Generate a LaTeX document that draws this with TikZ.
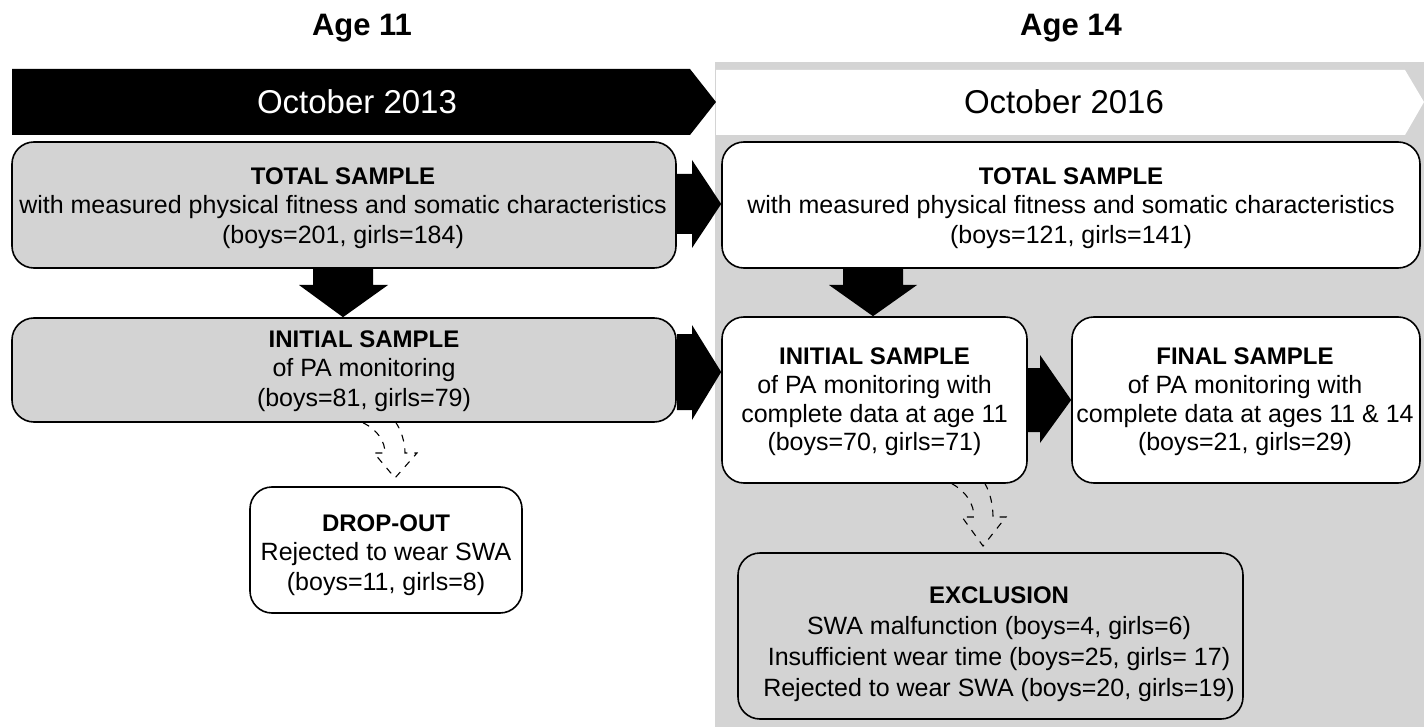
\documentclass[tikz,border=0pt]{standalone}
\usepackage{fontspec}
\setmainfont{Liberation Sans}
\begin{document}
\begin{tikzpicture}[x=1pt,y=-1pt]
\definecolor{panelgray}{RGB}{212,212,212}
\definecolor{boxgray}{RGB}{211,211,211}
\tikzset{
  box/.style={draw=black, line width=1.6pt, rounded corners=22pt, inner sep=0pt},
  graybox/.style={box, fill=boxgray},
  whitebox/.style={box, fill=white},
  boxtext/.style={align=center, inner sep=0pt, font=\fontsize{25}{29.5}\selectfont},
  blockarrow/.style={fill=black},
  dasharrow/.style={draw=black, line width=1.1pt, dash pattern=on 7pt off 7pt},
  agelabel/.style={font=\fontsize{31}{36}\selectfont\bfseries},
  bannertext/.style={font=\fontsize{33}{38}\selectfont},
}
\newcommand{\hdline}[1]{{\fontsize{24}{29.5}\selectfont\bfseries #1}}
\useasboundingbox (0,0) rectangle (1424,727);
\fill[white] (0,0) rectangle (1424,727);
% right panel
\fill[panelgray] (715,62) rectangle (1424,727);

% headings
\node[agelabel] (age11) at (362,28) {Age 11};
\node[agelabel] (age14) at (1071,28) {Age 14};

% banners
\fill[black] (12,69) -- (690,69) -- (716,102) -- (690,135) -- (12,135) -- cycle;
\fill[white] (716,70) -- (1405,70) -- (1424,102) -- (1405,135) -- (716,135) -- cycle;
\node[bannertext, text=white] (oct13) at (357,102) {October 2013};
\node[bannertext] (oct16) at (1064,102) {October 2016};

% boxes
\node[graybox, minimum width=664pt, minimum height=126pt] (A) at (344,205) {};
\node[whitebox, minimum width=698pt, minimum height=126pt] (B) at (1071,205) {};
\node[graybox, minimum width=664pt, minimum height=104pt] (C) at (344,370) {};
\node[whitebox, minimum width=305pt, minimum height=166pt] (D) at (874.5,400) {};
\node[whitebox, minimum width=348pt, minimum height=166pt] (E) at (1246,400) {};
\node[whitebox, minimum width=272pt, minimum height=126pt] (F) at (386,550) {};
\node[graybox, minimum width=505pt, minimum height=166pt] (G) at (990.5,636) {};

% box texts
\node[boxtext] (At) at (343,208)
  {\hdline{TOTAL SAMPLE}\\with measured physical fitness and somatic characteristics\\(boys=201, girls=184)};
\node[boxtext] (Bt) at (1071,208)
  {\hdline{TOTAL SAMPLE}\\with measured physical fitness and somatic characteristics\\(boys=121, girls=141)};
\node[boxtext] (Ct) at (364,371)
  {\hdline{INITIAL SAMPLE}\\of PA monitoring\\(boys=81, girls=79)};
\node[boxtext, font=\fontsize{25}{28.8}\selectfont] (Dt) at (874.5,402)
  {\hdline{INITIAL SAMPLE}\\of PA monitoring with\\complete data at age 11\\(boys=70, girls=71)};
\node[boxtext, font=\fontsize{25}{28.8}\selectfont] (Et) at (1245,402)
  {\hdline{FINAL SAMPLE}\\of PA monitoring with\\complete data at ages 11 \& 14\\(boys=21, girls=29)};
\node[boxtext] (Ft) at (386,555)
  {\hdline{DROP-OUT}\\Rejected to wear SWA\\(boys=11, girls=8)};
\node[boxtext, font=\fontsize{25}{31}\selectfont] (Gt) at (999,644)
  {\hdline{EXCLUSION}\\SWA malfunction (boys=4, girls=6)\\Insufficient wear time (boys=25, girls= 17)\\Rejected to wear SWA (boys=20, girls=19)};

% block arrows right
\fill[blockarrow] (A.east |- 0,174) -- (692,174) -- (692,160) -- (B.west |- 0,204) -- (692,248) -- (692,234) -- (A.east |- 0,234) -- cycle;
\fill[blockarrow] (C.east |- 0,334) -- (692,334) -- (692,325) -- (D.west |- 0,372) -- (692,420) -- (692,410) -- (C.east |- 0,410) -- cycle;
\fill[blockarrow] (D.east |- 0,368) -- (1040,368) -- (1040,355) -- (E.west |- 0,400) -- (1040,443) -- (1040,432) -- (D.east |- 0,432) -- cycle;
% block arrows down
\fill[blockarrow] (A.south -| 313,0) -- (A.south -| 373,0) -- (373,285) -- (388,285) -- (C.north -| 343,0) -- (299,285) -- (313,285) -- cycle;
\fill[blockarrow] (B.south -| 843,0) -- (B.south -| 903,0) -- (903,285) -- (917,285) -- (D.north -| 873,0) -- (829,285) -- (843,285) -- cycle;

% dashed curved arrows
\coordinate (FtipC) at (395,478);
\coordinate (GtipC) at (983,546);
\draw[dasharrow] (C.south -| 363,0) .. controls (378,430) and (385,442) .. (385,453) -- (374,453) -- (FtipC)
  -- (417,453) -- (405,453) .. controls (405,442) and (401,430) .. (C.south -| 396,0);
\draw[dasharrow] (D.south -| 952,0) .. controls (967,492) and (974,505) .. (974,517) -- (962,517) -- (GtipC)
  -- (1006,517) -- (993,517) .. controls (993,505) and (990,492) .. (D.south -| 985,0);
\end{tikzpicture}
\end{document}
